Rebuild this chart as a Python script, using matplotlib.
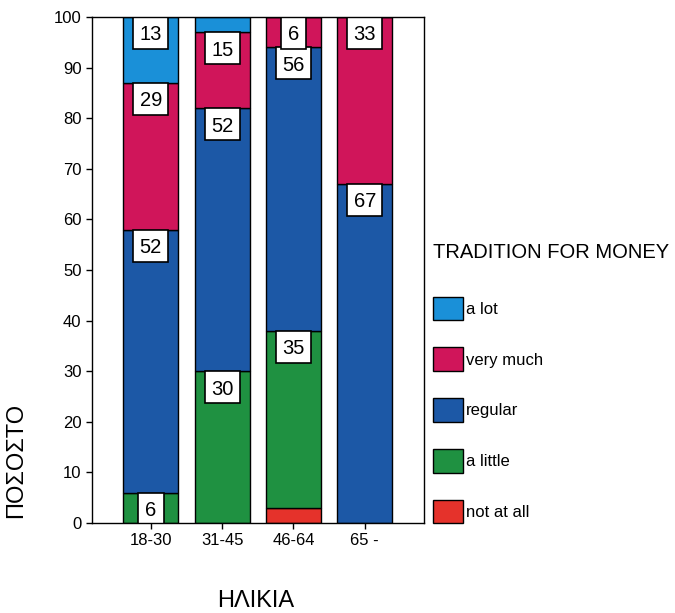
import numpy as np
import matplotlib
matplotlib.use("Agg")
import matplotlib.pyplot as plt
from matplotlib.patches import Patch, Rectangle

plt.rcParams['font.family'] = ['Liberation Sans', 'DejaVu Sans']

# data
ages = ['18-30', '31-45', '46-64', '65 -']
not_at_all = [0, 0, 3, 0]
a_little = [6, 30, 35, 0]
regular = [52, 52, 56, 67]
very_much = [29, 15, 6, 33]
a_lot = [13, 3, 0, 0]

series = [('not at all', not_at_all, '#e5322b'),
          ('a little', a_little, '#1f9141'),
          ('regular', regular, '#1c58a6'),
          ('very much', very_much, '#d0155a'),
          ('a lot', a_lot, '#1a90d8')]

fig = plt.figure(figsize=(6.75, 6.13), dpi=100)
ax = fig.add_axes([92/675, 1-523/613, 332/675, 506/613])

ax.set_xlim(-0.825, 3.83)
ax.set_ylim(0, 100)

# pixel -> data unit factors for the label boxes
px_x = (3.83 + 0.825) / 332
px_y = 100 / 506

x = np.arange(len(ages))
bottom = np.zeros(len(ages))
handles = []
for name, vals, col in series:
    vals = np.array(vals, dtype=float)
    ax.bar(x, vals, 0.77, bottom=bottom, color=col, edgecolor='black', linewidth=1)
    for i in range(len(ages)):
        if vals[i] >= 5:
            top = bottom[i] + vals[i]
            txt = f'{vals[i]:.0f}'
            w = (len(txt) * 9.5 + 16) * px_x
            h = 32 * px_y
            # white label box hanging from the top of the segment
            ax.add_patch(Rectangle((x[i] - w/2, top - h), w, h, fc='white', ec='black',
                                   lw=1.2, zorder=3))
            ax.text(x[i], top - h/2, txt, ha='center', va='center_baseline', fontsize=14.5,
                    zorder=4)
    bottom += vals
    handles.append(Patch(facecolor=col, edgecolor='black', label=name))

ax.set_yticks(np.arange(0, 101, 10))
ax.set_xticks(x)
ax.set_xticklabels(ages)
ax.tick_params(labelsize=12, length=4, width=1, direction='out')
for s in ax.spines.values():
    s.set_linewidth(1)
    s.set_zorder(5)

fig.text(256/675, 1-601/613, 'ΗΛΙΚΙΑ', fontsize=17, ha='center', va='center')
fig.text(16/675, 1-460/613, 'ΠΟΣΟΣΤΟ', fontsize=17, rotation=90, ha='center', va='center')

leg = fig.legend(handles=handles[::-1], loc='upper left', bbox_to_anchor=(433/675, 1-243/613),
                 frameon=False, fontsize=12, title='TRADITION FOR MONEY', title_fontsize=14.5,
                 handlelength=1.8, handleheight=1.8, handletextpad=0.2, labelspacing=1.63,
                 borderpad=0, borderaxespad=0)
leg._legend_box.align = 'left'
leg._legend_box.sep = 25

fig.savefig('out.png', dpi=100)
